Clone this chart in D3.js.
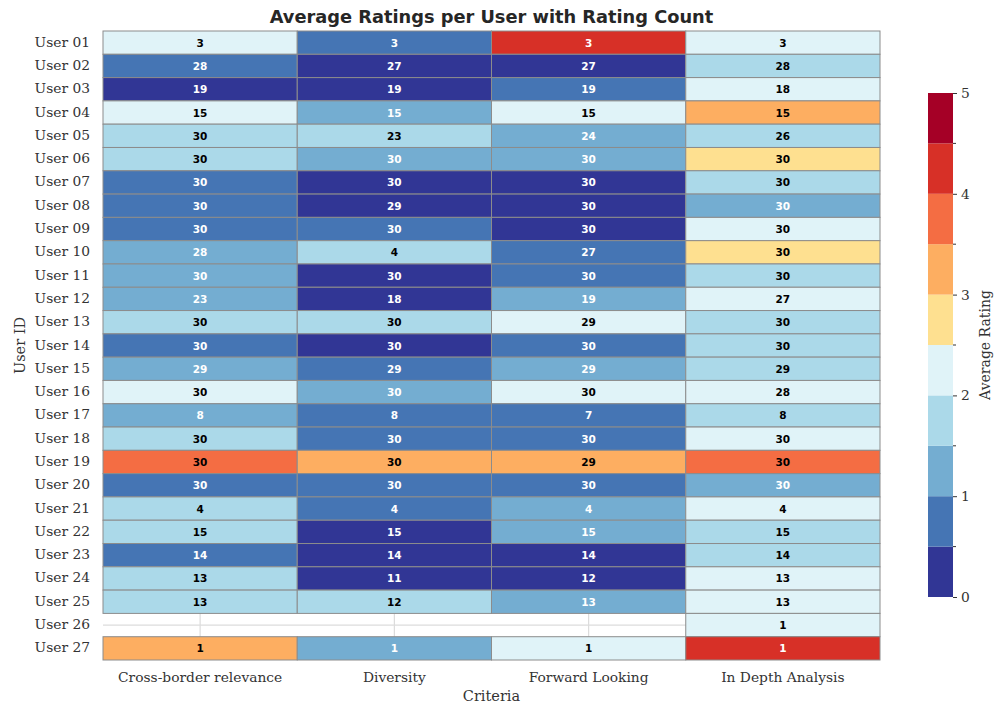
<!DOCTYPE html>
<html>
<head>
<meta charset="utf-8">
<script src="https://cdn.jsdelivr.net/npm/d3@7"></script>
<style>
  body { margin: 0; background: #fff; }
  svg { display: block; }
  .tick-lbl { font-family: "DejaVu Serif", serif; font-size: 13.8px; fill: #333; }
  .annot { font-family: "DejaVu Sans", sans-serif; font-size: 10.5px; font-weight: bold; }
</style>
</head>
<body>
<svg width="994" height="707"></svg>
<script>
users = ['User 01', 'User 02', 'User 03', 'User 04', 'User 05', 'User 06', 'User 07', 'User 08', 'User 09',
  'User 10', 'User 11', 'User 12', 'User 13', 'User 14', 'User 15', 'User 16', 'User 17', 'User 18',
  'User 19', 'User 20', 'User 21', 'User 22', 'User 23', 'User 24', 'User 25', 'User 26', 'User 27']
criteria = ['Cross-border relevance', 'Diversity', 'Forward Looking', 'In Depth Analysis']

// average rating per user, one array per criterion (null = no ratings)
avgCrossBorder = [2.33, 0.82, 0.42, 2.20, 1.87, 1.63, 0.73, 0.87, 0.93, 1.25, 1.40, 1.30, 1.77, 0.90,
  1.34, 2.10, 1.38, 1.67, 3.63, 0.97, 1.75, 1.67, 0.93, 1.85, 1.54, null, 3.00]
avgDiversity = [0.67, 0.44, 0.37, 1.27, 1.74, 1.17, 0.33, 0.41, 0.80, 1.75, 0.40, 0.28, 1.63, 0.37,
  0.90, 1.33, 0.88, 0.83, 3.23, 0.77, 0.75, 0.47, 0.36, 0.45, 1.58, null, 1.00]
avgForward = [4.33, 0.48, 0.74, 2.13, 1.42, 1.30, 0.43, 0.47, 0.37, 0.81, 0.87, 1.16, 2.14, 0.83,
  1.31, 2.03, 0.86, 0.93, 3.14, 0.90, 1.25, 1.40, 0.43, 0.42, 1.23, null, 2.00]
avgInDepth = [2.33, 1.79, 2.06, 3.13, 1.88, 2.70, 1.73, 1.47, 2.17, 2.57, 1.83, 2.04, 1.90, 1.70,
  1.86, 2.07, 1.63, 2.13, 3.80, 1.37, 2.25, 1.73, 1.93, 2.15, 2.23, 2.00, 4.00]

// number of ratings per user
cntCrossBorder = [3, 28, 19, 15, 30, 30, 30, 30, 30, 28, 30, 23, 30, 30, 29, 30, 8, 30, 30, 30, 4, 15, 14, 13, 13, null, 1]
cntDiversity = [3, 27, 19, 15, 23, 30, 30, 29, 30, 4, 30, 18, 30, 30, 29, 30, 8, 30, 30, 30, 4, 15, 14, 11, 12, null, 1]
cntForward = [3, 27, 19, 15, 24, 30, 30, 30, 30, 27, 30, 19, 29, 30, 29, 30, 7, 30, 29, 30, 4, 15, 14, 12, 13, null, 1]
cntInDepth = [3, 28, 18, 15, 26, 30, 30, 30, 30, 30, 30, 27, 30, 30, 29, 28, 8, 30, 30, 30, 4, 15, 14, 13, 13, 1, 1]

colorbarTicks = [0, 1, 2, 3, 4, 5]

avgCols = [avgCrossBorder, avgDiversity, avgForward, avgInDepth]
cntCols = [cntCrossBorder, cntDiversity, cntForward, cntInDepth]

X_LEFT = 103
Y_TOP = 31
W = 777
H = 629
CB_X = 928
CB_W = 25
CB_TOP = 93
CB_BOTTOM = 597

PALETTE = ['#313695', '#4575b4', '#74add1', '#abd9e9', '#e0f3f8',
           '#fee090', '#fdae61', '#f46d43', '#d73027', '#a50026']
TEXT_ON = ['#fff', '#fff', '#fff', '#000', '#000', '#000', '#000', '#000', '#fff', '#fff']
BOUNDS = d3.range(1, 10).map(function (i) { return i * 0.5; })

color = d3.scaleThreshold().domain(BOUNDS).range(PALETTE)
textColor = d3.scaleThreshold().domain(BOUNDS).range(TEXT_ON)

cells = []
users.forEach(function (u, i) {
  criteria.forEach(function (c, j) {
    cells.push({user: u, crit: c, avg: avgCols[j][i], cnt: cntCols[j][i]})
  })
})

svg = d3.select('svg')

x = d3.scaleBand().domain(criteria).range([X_LEFT, X_LEFT + W])
y = d3.scaleBand().domain(users).range([Y_TOP, Y_TOP + H])

// grid lines behind the cells (only visible where there is no data)
grid = svg.append('g')
grid.selectAll('line.gx').data(criteria).enter().append('line')
  .attr('x1', function (d) { return x(d) + x.bandwidth() / 2; })
  .attr('x2', function (d) { return x(d) + x.bandwidth() / 2; })
  .attr('y1', Y_TOP).attr('y2', Y_TOP + H)
  .attr('stroke', '#dcdcdc').attr('stroke-width', 1.2)
grid.selectAll('line.gy').data(users).enter().append('line')
  .attr('y1', function (d) { return y(d) + y.bandwidth() / 2; })
  .attr('y2', function (d) { return y(d) + y.bandwidth() / 2; })
  .attr('x1', X_LEFT).attr('x2', X_LEFT + W)
  .attr('stroke', '#dcdcdc').attr('stroke-width', 1.2)

svg.append('g').selectAll('rect').data(cells).enter().append('rect')
  .attr('x', function (d) { return x(d.crit); })
  .attr('y', function (d) { return y(d.user); })
  .attr('width', x.bandwidth())
  .attr('height', y.bandwidth())
  .attr('fill', function (d) { return d.avg == null ? 'none' : color(d.avg); })
  .attr('stroke', '#8c8c8c')
  .attr('stroke-width', function (d) { return d.avg == null ? 0 : 1; })

svg.append('g').selectAll('text').data(cells.filter(function (d) { return d.avg != null; }))
  .enter().append('text')
  .attr('class', 'annot')
  .attr('x', function (d) { return x(d.crit) + x.bandwidth() / 2; })
  .attr('y', function (d) { return y(d.user) + y.bandwidth() / 2; })
  .attr('text-anchor', 'middle')
  .attr('dominant-baseline', 'central')
  .attr('fill', function (d) { return textColor(d.avg); })
  .text(function (d) { return d.cnt; })

// y axis labels
svg.append('g').selectAll('text').data(users).enter().append('text')
  .attr('class', 'tick-lbl')
  .attr('x', 90)
  .attr('y', function (d) { return y(d) + y.bandwidth() / 2 - 1; })
  .attr('text-anchor', 'end')
  .attr('dominant-baseline', 'central')
  .text(function (d) { return d; })

// x axis labels
svg.append('g').selectAll('text').data(criteria).enter().append('text')
  .attr('class', 'tick-lbl')
  .attr('x', function (d) { return x(d) + x.bandwidth() / 2; })
  .attr('y', 682)
  .attr('text-anchor', 'middle')
  .text(function (d) { return d; })

svg.append('text')
  .attr('x', X_LEFT + W / 2).attr('y', 701)
  .attr('text-anchor', 'middle')
  .style('font-family', 'DejaVu Serif').style('font-size', '14.5px').style('fill', '#333')
  .text('Criteria')

svg.append('text')
  .attr('transform', 'translate(25,' + (Y_TOP + H / 2) + ') rotate(-90)')
  .attr('text-anchor', 'middle')
  .style('font-family', 'DejaVu Serif').style('font-size', '14.5px').style('fill', '#333')
  .text('User ID')

svg.append('text')
  .attr('x', X_LEFT + W / 2).attr('y', 23)
  .attr('text-anchor', 'middle')
  .style('font-family', 'DejaVu Sans').style('font-size', '17.8px').style('font-weight', 'bold').style('fill', '#262626')
  .text('Average Ratings per User with Rating Count')

// colorbar
cb = d3.scaleLinear().domain([0, 5]).range([CB_BOTTOM, CB_TOP])
svg.append('g').selectAll('rect').data(PALETTE).enter().append('rect')
  .attr('x', CB_X)
  .attr('width', CB_W)
  .attr('y', function (d, i) { return cb((i + 1) * 0.5); })
  .attr('height', function (d, i) { return cb(i * 0.5) - cb((i + 1) * 0.5); })
  .attr('fill', function (d) { return d; })

cbAxis = svg.append('g')
  .attr('transform', 'translate(' + (CB_X + CB_W) + ',0)')
  .call(d3.axisRight(cb).tickValues(colorbarTicks).tickSize(4).tickPadding(4).tickFormat(d3.format('d')))
cbAxis.select('.domain').remove()
cbAxis.selectAll('line').attr('stroke', '#333')
cbAxis.selectAll('text').attr('class', 'tick-lbl').attr('fill', '#333')
cbAxis.selectAll('line.minor').data(BOUNDS.filter(function (b) { return b % 1 != 0; })).enter().append('line')
  .attr('class', 'minor')
  .attr('x1', 0).attr('x2', 3)
  .attr('y1', function (d) { return cb(d); }).attr('y2', function (d) { return cb(d); })
  .attr('stroke', '#333')

svg.append('text')
  .attr('transform', 'translate(990,' + ((CB_TOP + CB_BOTTOM) / 2) + ') rotate(-90)')
  .attr('text-anchor', 'middle')
  .style('font-family', 'DejaVu Serif').style('font-size', '14px').style('fill', '#333')
  .text('Average Rating')
</script>
</body>
</html>
